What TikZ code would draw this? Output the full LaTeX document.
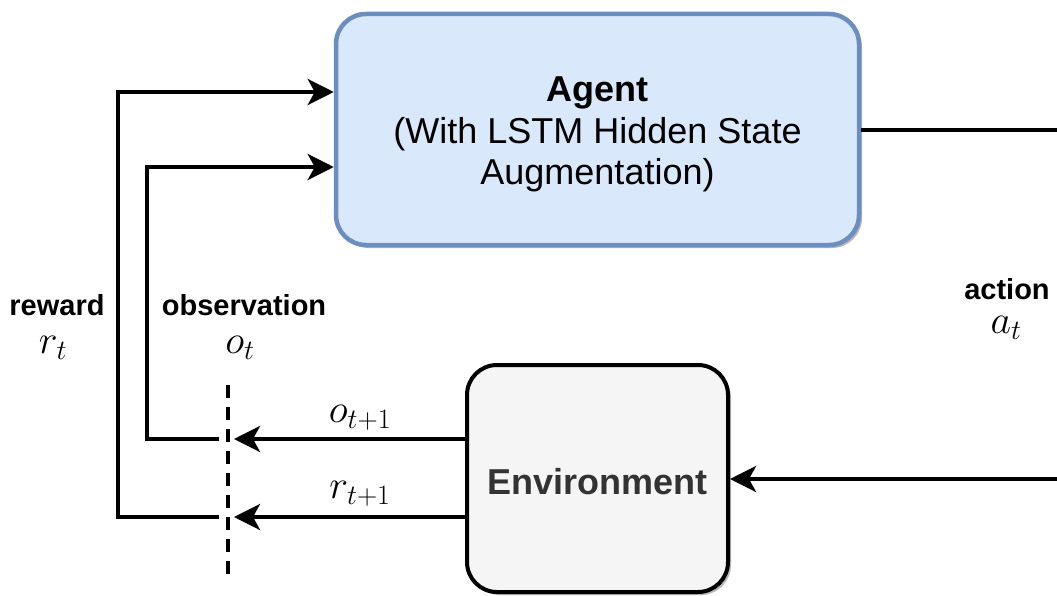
\RequirePackage{fix-cm}
\documentclass[tikz,border=0pt]{standalone}
\usepackage{fontspec}
\setmainfont{Liberation Sans}
\usetikzlibrary{arrows.meta,shadows}

\definecolor{agentfill}{RGB}{218,232,252}
\definecolor{agentline}{RGB}{108,142,191}
\definecolor{envfill}{RGB}{245,245,245}
\definecolor{envtext}{RGB}{51,51,51}

\tikzset{
  boxshadow/.style={drop shadow={shadow xshift=3pt,shadow yshift=-3pt,fill=black!28,opacity=1}},
  agentbox/.style={draw=agentline,fill=agentfill,line width=4.5pt,rounded corners=30pt,
    minimum width=523pt,minimum height=231pt,align=center,boxshadow,
    font=\fontsize{36}{41.5}\selectfont},
  envbox/.style={draw=black,fill=envfill,line width=4pt,rounded corners=30pt,
    minimum width=261pt,minimum height=227pt,boxshadow,text height=31pt,text depth=0pt,
    text=envtext,font=\fontsize{36}{40}\selectfont\bfseries},
  flow/.style={line width=4pt,-{Stealth[length=26pt,width=26pt,inset=7pt]}},
  sync/.style={line width=3.5pt,dash pattern=on 13pt off 9pt},
  lbl/.style={anchor=base,inner sep=0pt,font=\fontsize{29}{34}\selectfont\bfseries},
  sym/.style={anchor=base,inner sep=0pt,font=\fontsize{40}{46}\selectfont}
}

\begin{document}
\begin{tikzpicture}[x=1pt,y=-1pt]
  \useasboundingbox (0,0) rectangle (1057,596);

  % main blocks
  \node[agentbox] (agent) at (597.5,129.5)
    {\rule{0pt}{35pt}\textbf{Agent}\\(With LSTM Hidden State\\Augmentation)};
  \node[envbox] (env) at (597.5,478.5) {Environment};

  % time-step boundary
  \coordinate (synctop) at (228,385);
  \coordinate (syncbot) at (228,582);
  \draw[sync] (synctop) -- (syncbot);

  % points on the boundary
  \coordinate (oin) at (234,439);
  \coordinate (rin) at (234,517);
  \coordinate (oout) at (219,439);
  \coordinate (rout) at (219,517);

  % environment outputs
  \draw[flow] (env.west |- oin) -- (oin);
  \draw[flow] (env.west |- rin) -- (rin);
  \node[sym] (olbl) at (360,422) {$o_{t+1}$};
  \node[sym] (rlbl) at (360,498) {$r_{t+1}$};

  % feedback into the agent
  \draw[flow] (oout) -- (147,439) -- (147,167) -- (agent.west |- 0,167);
  \draw[flow] (rout) -- (118,517) -- (118,92) -- (agent.west |- 0,92);

  % action loop, leaving the frame on the right
  \coordinate (aright) at (1100,130);
  \coordinate (eright) at (1100,479);
  \draw[flow] (agent.east |- aright) -- (aright) -- (eright) -- (env.east |- eright);

  % labels
  \node[lbl] (rewardlbl) at (57,315.5) {reward};
  \node[sym] (rewardsym) at (53,353) {$r_t$};
  \node[lbl] (obslbl) at (244,315.5) {observation};
  \node[sym] (obssym) at (240,353) {$o_t$};
  \node[lbl] (actlbl) at (1007,299) {action};
  \node[sym] (actsym) at (1006,333) {$a_t$};
\end{tikzpicture}
\end{document}
